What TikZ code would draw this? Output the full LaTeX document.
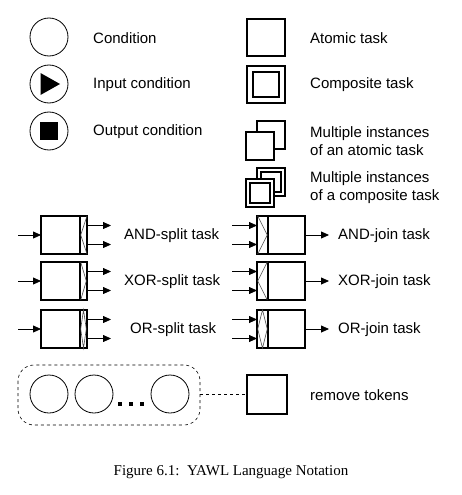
\documentclass[tikz,border=0pt]{standalone}
\usepackage{fontspec}
\setmainfont{Liberation Sans}
\newfontfamily\capfont{Liberation Serif}
\usetikzlibrary{arrows.meta}
\begin{document}
\begin{tikzpicture}[x=1pt,y=-1pt,
  cond/.style={circle,draw,line width=0.8pt,minimum size=38pt,inner sep=0pt},
  taskbox/.style={draw,line width=1.6pt,fill=white},
  lbl/.style={anchor=west,inner sep=0pt,font=\fontsize{15}{18}\selectfont,align=left},
  arr/.style={line width=0.8pt,-{Triangle[length=8pt,width=7pt]}},
  deco/.style={line width=0.6pt,draw=black!70}]
\useasboundingbox (0,0) rectangle (462,495);
% conditions
\node[cond] (c1) at (49,37) {};
\node[cond] (c2) at (49,84) {};
\node[cond] (c3) at (49,131) {};
\fill (40.5,73) -- (40.5,95) -- (60,84) -- cycle;
\fill (40,122) rectangle (58,140);
\node[lbl] (t1) at (93,38) {Condition};
\node[lbl] (t2) at (93,85) {Input condition};
\node[lbl] (t3) at (93,132) {Output condition};
% atomic and composite
\draw[taskbox] (247,19) rectangle (285,56);
\draw[taskbox] (247,66) rectangle (285,103);
\draw[taskbox] (253,72) rectangle (279,97);
\node[lbl] (t4) at (310,38) {Atomic task};
\node[lbl] (t5) at (310,85) {Composite task};
% multiple instances atomic
\draw[taskbox] (257,121) rectangle (285,149);
\draw[taskbox] (246,132) rectangle (274,160);
\node[lbl] (t6) at (310,141) {Multiple instances\\of an atomic task};
% multiple instances composite
\draw[taskbox] (257,168) rectangle (285,196);
\draw[taskbox] (261,172) rectangle (281,192);
\draw[taskbox] (246,179) rectangle (274,207);
\draw[taskbox] (250,183) rectangle (270,203);
\node[lbl] (t7) at (310,188) {Multiple instances\\of a composite task};
% split tasks
\foreach \cy/\txt/\tx in {235/AND-split task/124, 281/XOR-split task/124, 329/OR-split task/130}{
  \draw[taskbox] (41,\cy-19) rectangle (87,\cy+19);
  \draw[line width=1.2pt] (80,\cy-19) -- (80,\cy+19);
  \draw[arr] (18,\cy) -- (41,\cy);
  \draw[arr] (87,\cy-9.5) -- (111,\cy-9.5);
  \draw[arr] (87,\cy+9.5) -- (111,\cy+9.5);
  \node[lbl] at (\tx,\cy+1) {\txt};
}
\draw[deco] (87,216) -- (80.7,235) -- (87,254);
\draw[deco] (80.7,262) -- (86.3,281) -- (80.7,300);
\draw[deco] (83.5,310) -- (80.7,329) -- (83.5,348) -- (86.3,329) -- cycle;
% join tasks
\foreach \cy/\txt in {235/AND-join task, 281/XOR-join task, 329/OR-join task}{
  \draw[taskbox] (257,\cy-19) rectangle (305,\cy+19);
  \draw[line width=1.2pt] (268,\cy-19) -- (268,\cy+19);
  \draw[arr] (232,\cy-9.5) -- (257,\cy-9.5);
  \draw[arr] (232,\cy+9.5) -- (257,\cy+9.5);
  \draw[arr] (305,\cy) -- (329,\cy);
  \node[lbl] at (338,\cy+1) {\txt};
}
\draw[deco] (257.7,216) -- (267.3,235) -- (257.7,254);
\draw[deco] (267.3,262) -- (257.7,281) -- (267.3,300);
\draw[deco] (262.5,310) -- (257.7,329) -- (262.5,348) -- (267.3,329) -- cycle;
% remove tokens
\draw[dashed,line width=0.6pt,rounded corners=16pt] (18,365) rectangle (200,425);
\node[cond] (r1) at (49,394) {};
\node[cond] (r2) at (94,394) {};
\node[cond] (r3) at (170,394) {};
\foreach \dx in {120,131,142}{\fill (\dx-2.2,402) rectangle (\dx+2.2,406.4);}
\coordinate (gr) at (200,394);
\draw[taskbox] (247,375) rectangle (287,414);
\coordinate (sq) at (247,394);
\draw[dashed,line width=0.6pt] (gr) -- (sq);
\node[lbl] (t8) at (310,395) {remove tokens};
% caption
\node[font=\capfont\fontsize{15}{18}\selectfont] (cap) at (231,472) {Figure 6.1:\ \ YAWL Language Notation};
\end{tikzpicture}
\end{document}
